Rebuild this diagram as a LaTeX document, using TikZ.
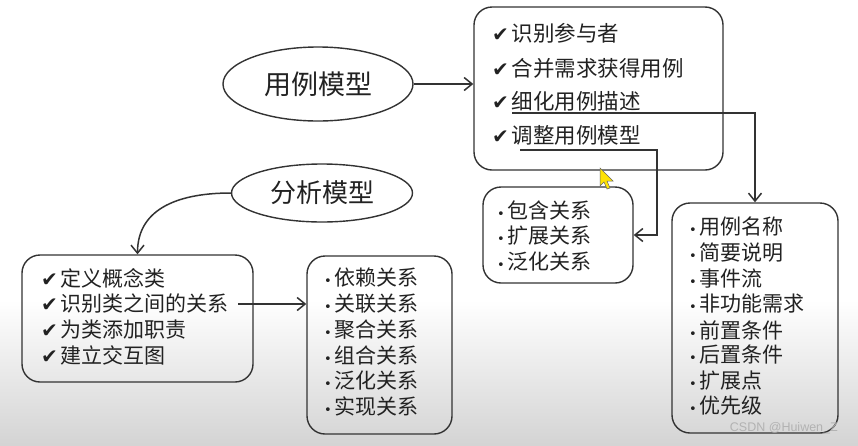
\documentclass[tikz,border=0pt]{standalone}
\usepackage{fontspec}
\newfontfamily\cjk{Noto Sans CJK SC}
\newfontfamily\symf{DejaVu Sans}
\newfontfamily\wmf{Liberation Sans}
\usetikzlibrary{shapes.geometric,arrows.meta}
\definecolor{lc}{HTML}{333333}
\definecolor{tc}{HTML}{222222}
\newcommand{\ckm}{{\symf\fontsize{20}{20}\selectfont ✔}\hspace{3pt}}
\newcommand{\bul}{{\symf\fontsize{13}{13}\selectfont •}\hspace{3pt}}
\tikzset{
  box/.style={draw=lc, line width=1.4pt, rounded corners=18pt, inner sep=0pt},
  oval/.style={ellipse, draw=lc, line width=1.4pt, inner sep=0pt, text=tc},
  item/.style={anchor=west, inner sep=0pt, text=tc, font=\cjk\fontsize{21}{21}\selectfont},
  conn/.style={draw=lc, line width=1.5pt, -{Straight Barb[length=8pt,width=13pt,line width=1.5pt]}}
}
\begin{document}
\begin{tikzpicture}[x=1pt,y=-1pt]
% background
\fill[white] (0,0) rectangle (858,300);
\shade[top color=white, bottom color=black!17] (0,300) rectangle (858,445);
\useasboundingbox (0,0) rectangle (858,445);

% ellipses
\node[oval, minimum width=190pt, minimum height=74pt, font=\cjk\fontsize{27}{27}\selectfont] (e1) at (318,84) {用例模型};
\node[oval, minimum width=181pt, minimum height=58pt, font=\cjk\fontsize{26}{26}\selectfont] (e2) at (322,193) {分析模型};

% boxes
\node[box, minimum width=249pt, minimum height=163pt] (tbox) at (598.5,88.5) {};
\node[box, minimum width=150pt, minimum height=96pt] (sbox) at (558,235) {};
\node[box, minimum width=166pt, minimum height=230pt] (rbox) at (755,318) {};
\node[box, minimum width=231pt, minimum height=127pt] (lbox) at (137.5,318.5) {};
\node[box, minimum width=145pt, minimum height=178pt] (mbox) at (379.5,345) {};

% top box items
\node[item, font=\cjk\fontsize{21.5}{21.5}\selectfont] (t1) at (492,33) {\ckm 识别参与者};
\node[item, font=\cjk\fontsize{21.5}{21.5}\selectfont] (t2) at (492,68) {\ckm 合并需求获得用例};
\node[item, font=\cjk\fontsize{21.5}{21.5}\selectfont] (t3) at (492,101) {\ckm 细化用例描述};
\node[item, font=\cjk\fontsize{21.5}{21.5}\selectfont] (t4) at (492,135) {\ckm 调整用例模型};

% small box items
\node[item] (s1) at (497,210) {\bul 包含关系};
\node[item] (s2) at (497,236) {\bul 扩展关系};
\node[item] (s3) at (497,262) {\bul 泛化关系};

% right box items
\node[item] (r1) at (689,227) {\bul 用例名称};
\node[item] (r2) at (689,253) {\bul 简要说明};
\node[item] (r3) at (689,279) {\bul 事件流};
\node[item] (r4) at (689,304) {\bul 非功能需求};
\node[item] (r5) at (689,330) {\bul 前置条件};
\node[item] (r6) at (689,355) {\bul 后置条件};
\node[item] (r7) at (689,381) {\bul 扩展点};
\node[item] (r8) at (689,406) {\bul 优先级};

% left box items
\node[item] (l1) at (41,278) {\ckm 定义概念类};
\node[item] (l2) at (41,304) {\ckm 识别类之间的关系};
\node[item] (l3) at (41,330) {\ckm 为类添加职责};
\node[item] (l4) at (41,355) {\ckm 建立交互图};

% middle box items
\node[item] (m1) at (324,278) {\bul 依赖关系};
\node[item] (m2) at (324,304) {\bul 关联关系};
\node[item] (m3) at (324,330) {\bul 聚合关系};
\node[item] (m4) at (324,355) {\bul 组合关系};
\node[item] (m5) at (324,381) {\bul 泛化关系};
\node[item] (m6) at (324,406) {\bul 实现关系};

% connector coordinates
\coordinate (u1s) at (512,113);
\coordinate (u1e) at (755,113);
\coordinate (u2s) at (520,150);
\coordinate (u2e) at (657,150);
\coordinate (a3s) at (238,304);

% connectors
\draw[conn] (e1.east) -- (e1.east -| tbox.west);
\draw[conn] (u1s) -- (u1e) -- (rbox.north);
\draw[conn] (u2s) -- (u2e) |- (sbox.east);
\draw[conn] (e2.west) to[out=180,in=90,looseness=1.1] (lbox.north);
\draw[conn] (a3s) -- (a3s -| mbox.west);

% mouse cursor
\filldraw[fill=yellow!85!orange, draw=black!60, line width=0.5pt]
  (600,168) -- (600,186) -- (604,182) -- (607,189) -- (610,188) -- (607,181) -- (613,181) -- cycle;

% watermark
\node[anchor=east, inner sep=0pt, text=black!30, font=\wmf\fontsize{12.5}{12.5}\selectfont] (wm) at (838,428) {CSDN @Huiwen\_Z};
\end{tikzpicture}
\end{document}
